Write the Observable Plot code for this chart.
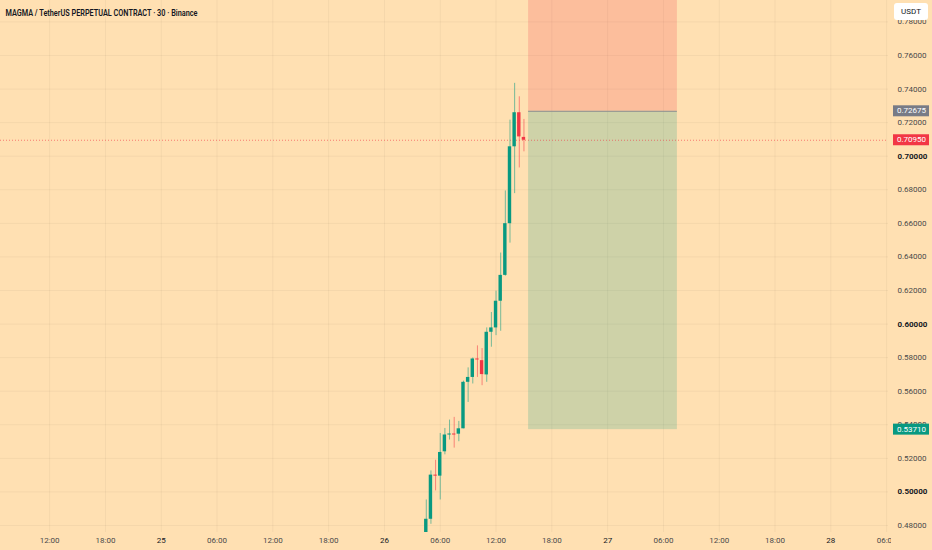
<!DOCTYPE html>
<html><head><meta charset="utf-8">
<script src="https://cdn.jsdelivr.net/npm/d3@7"></script>
<script src="https://cdn.jsdelivr.net/npm/@observablehq/plot@0.6"></script>
<style>
html,body{margin:0;padding:0;background:#FFE0B2;}
#chart{position:relative;width:932px;height:550px;overflow:hidden;}
</style></head><body><div id="chart"></div>
<script>
// ---- data ----
const title = "MAGMA / TetherUS PERPETUAL CONTRACT · 30 · Binance";
const candleTimes = [
  "2025-05-26T04:30Z","2025-05-26T05:00Z","2025-05-26T05:30Z","2025-05-26T06:00Z",
  "2025-05-26T06:30Z","2025-05-26T07:00Z","2025-05-26T07:30Z","2025-05-26T08:00Z",
  "2025-05-26T08:30Z","2025-05-26T09:00Z","2025-05-26T09:30Z","2025-05-26T10:00Z",
  "2025-05-26T10:30Z","2025-05-26T11:00Z","2025-05-26T11:30Z","2025-05-26T12:00Z",
  "2025-05-26T12:30Z","2025-05-26T13:00Z","2025-05-26T13:30Z","2025-05-26T14:00Z",
  "2025-05-26T14:30Z","2025-05-26T15:00Z"];
const opens  = [0.4757,0.4837,0.5100,0.5094,0.5239,0.5339,0.5345,0.5344,0.5376,0.5653,0.5682,0.5792,0.5782,0.5697,0.5951,0.5977,0.6136,0.6290,0.6598,0.7056,0.7259,0.7112];
const highs  = [0.4952,0.5125,0.5189,0.5348,0.5378,0.5428,0.5444,0.5420,0.5660,0.5739,0.5798,0.5870,0.5854,0.5977,0.6069,0.6196,0.6423,0.6793,0.7215,0.7434,0.7354,0.7219];
const lows   = [0.4740,0.4807,0.5006,0.4952,0.5221,0.5309,0.5261,0.5299,0.5376,0.5533,0.5643,0.5682,0.5633,0.5653,0.5862,0.5931,0.5957,0.6285,0.6482,0.6777,0.6930,0.7026];
const closes = [0.4837,0.5100,0.5094,0.5235,0.5339,0.5345,0.5339,0.5376,0.5653,0.5682,0.5792,0.5786,0.5699,0.5951,0.5977,0.6136,0.6290,0.6598,0.7056,0.7259,0.7115,0.7095];

const xTickTimes = [
  "2025-05-24T12:00Z","2025-05-24T18:00Z","2025-05-25T00:00Z","2025-05-25T06:00Z",
  "2025-05-25T12:00Z","2025-05-25T18:00Z","2025-05-26T00:00Z","2025-05-26T06:00Z",
  "2025-05-26T12:00Z","2025-05-26T18:00Z","2025-05-27T00:00Z","2025-05-27T06:00Z",
  "2025-05-27T12:00Z","2025-05-27T18:00Z","2025-05-28T00:00Z","2025-05-28T06:00Z"];
const xTickLabels = ["12:00","18:00","25","06:00","12:00","18:00","26","06:00","12:00","18:00","27","06:00","12:00","18:00","28","06:00"];
const xTickBold   = [false,false,true,false,false,false,true,false,false,false,true,false,false,false,true,false];

const yTicks     = [0.48,0.50,0.52,0.54,0.56,0.58,0.60,0.62,0.64,0.66,0.68,0.70,0.72,0.74,0.76,0.78];
const yTicksBold = [0.50,0.60,0.70];

const xDomain = ["2025-05-24T06:43Z","2025-05-28T06:12Z"];
const yDomain = [0.47582, 0.79276];

const positionStart = "2025-05-26T15:30Z";
const positionEnd   = "2025-05-27T07:30Z";
const entryPrice  = 0.72675;
const targetPrice = 0.53710;
const stopPrice   = 0.80;   // above the visible range
const lastPrice   = 0.70950;

const tagValues = [0.72675, 0.70950, 0.53710];
const tagColors = ["#787B86", "#F23645", "#089981"];

// ---- build ----
const BG = "#FFE0B2", GREEN = "#089981", RED = "#F23645";
const candles = candleTimes.map((t, i) => ({t: new Date(t), o: opens[i], h: highs[i], l: lows[i], c: closes[i]}));
const xTicks = xTickTimes.map((t, i) => ({t: new Date(t), label: xTickLabels[i], bold: xTickBold[i]}));
const half = 11 * 60e3;
const pos = {x1: new Date(positionStart), x2: new Date(positionEnd)};
const FONT = "Roboto, 'Liberation Sans', sans-serif";

const svg = Plot.plot({
  width: 932, height: 550,
  marginTop: 0, marginLeft: 0, marginRight: 44, marginBottom: 18,
  style: {background: BG, fontFamily: FONT, fontSize: "8px"},
  x: {type: "utc", domain: xDomain.map(d => new Date(d)), axis: null},
  y: {domain: yDomain, axis: null},
  color: {type: "identity"},
  marks: [
    Plot.ruleX(xTicks, {x: "t", stroke: "#000", strokeOpacity: 0.045}),
    Plot.ruleY(yTicks, {stroke: "#000", strokeOpacity: 0.045}),
    Plot.rect([{...pos, y1: entryPrice, y2: stopPrice}], {x1: "x1", x2: "x2", y1: "y1", y2: "y2", fill: RED, fillOpacity: 0.2, clip: true}),
    Plot.rect([{...pos, y1: targetPrice, y2: entryPrice}], {x1: "x1", x2: "x2", y1: "y1", y2: "y2", fill: GREEN, fillOpacity: 0.2, clip: true}),
    Plot.ruleY([{...pos, y: entryPrice}], {x1: "x1", x2: "x2", y: "y", stroke: "#8f8f8f", strokeWidth: 1}),
    Plot.ruleY([lastPrice], {stroke: RED, strokeOpacity: 0.6, strokeDasharray: "1,2", strokeWidth: 1}),
    Plot.ruleX(candles, {x: "t", y1: "l", y2: "h", stroke: d => d.c >= d.o ? GREEN : RED, strokeOpacity: 0.55, clip: true}),
    Plot.rect(candles, {x1: d => new Date(+d.t - half), x2: d => new Date(+d.t + half), y1: "o", y2: "c", fill: d => d.c >= d.o ? GREEN : RED, clip: true}),
    Plot.text(yTicks.filter(v => !yTicksBold.includes(v)), {y: d => d, text: d => d.toFixed(5), frameAnchor: "right", textAnchor: "start", dx: 9, fill: "#4a4a4a", fontSize: 8}),
    Plot.text(yTicksBold, {y: d => d, text: d => d.toFixed(5), frameAnchor: "right", textAnchor: "start", dx: 9, fill: "#131722", fontWeight: "bold", fontSize: 8}),
    Plot.text(xTicks, {x: "t", text: "label", frameAnchor: "bottom", dy: 10, fill: d => d.bold ? "#131722" : "#4a4a4a", fontWeight: d => d.bold ? "bold" : "normal", fontSize: 8}),
    Plot.text([title], {frameAnchor: "top-left", dx: 5, dy: 9.5, textAnchor: "start", fill: "#131722", fontWeight: 600, fontSize: 8.5})
  ]
});

const s = d3.select(svg);
// squeeze the title to the reference's width
s.selectAll("text").filter(function() { return this.textContent === title; })
  .attr("textLength", 192).attr("lengthAdjust", "spacingAndGlyphs");

// right price-scale overlays drawn with the plot's own y scale
const ys = svg.scale("y");
const rightEdge = 932 - 44;
s.append("rect").attr("x", rightEdge + 3).attr("y", 533).attr("width", 44).attr("height", 17).attr("fill", BG);
tagValues.forEach((v, i) => {
  const y = ys.apply(v);
  s.append("rect").attr("x", rightEdge + 5).attr("y", y - 5.5).attr("width", 36).attr("height", 11).attr("fill", tagColors[i]);
  s.append("text").attr("x", rightEdge + 9).attr("y", y).attr("dy", "0.32em").attr("fill", "white")
    .attr("text-anchor", "start").attr("font-size", 8).attr("font-family", FONT).text(v.toFixed(5));
});
s.append("rect").attr("x", rightEdge + 6).attr("y", 3).attr("width", 34).attr("height", 17).attr("rx", 3).attr("fill", "white");
s.append("text").attr("x", rightEdge + 23).attr("y", 11.5).attr("dy", "0.32em").attr("text-anchor", "middle")
  .attr("fill", "#131722").attr("font-size", 8).attr("font-family", FONT).text("USDT");

document.getElementById("chart").appendChild(svg);
</script></body></html>
